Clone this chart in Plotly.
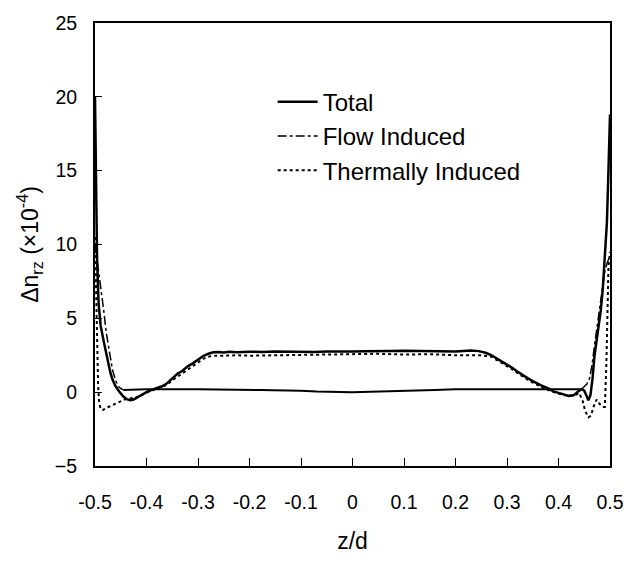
import plotly.graph_objects as go
import numpy as np

# ---- data ----
total_x = [-0.500, -0.498, -0.496, -0.493, -0.489, -0.484, -0.480, -0.475, -0.470, -0.466,
           -0.460, -0.453, -0.445, -0.438, -0.432, -0.425, -0.418, -0.410, -0.400, -0.390,
           -0.380, -0.370, -0.362, -0.350, -0.340, -0.330, -0.320, -0.310, -0.300, -0.290,
           -0.280, -0.270, -0.260, -0.250, -0.240, -0.225, -0.200, -0.175, -0.150, -0.125,
           -0.100, -0.075, -0.050, -0.025, 0.000, 0.025, 0.050, 0.075, 0.100, 0.125,
           0.150, 0.175, 0.200, 0.215, 0.230, 0.245, 0.260, 0.270, 0.280, 0.290,
           0.300, 0.310, 0.320, 0.330, 0.340, 0.350, 0.360, 0.370, 0.380, 0.390,
           0.400, 0.410, 0.420, 0.430, 0.438, 0.445, 0.450, 0.455, 0.458, 0.462,
           0.466, 0.470, 0.474, 0.478, 0.482, 0.486, 0.490, 0.494, 0.497, 0.500]
total_y = [20.0, 14.0, 9.0, 6.0, 4.5, 3.6, 2.9, 2.0, 1.3, 0.85,
           0.4, 0.05, -0.3, -0.48, -0.55, -0.5, -0.35, -0.18, 0.0, 0.15,
           0.25, 0.4, 0.55, 0.95, 1.25, 1.45, 1.75, 1.95, 2.2, 2.45,
           2.6, 2.7, 2.72, 2.68, 2.73, 2.7, 2.74, 2.72, 2.76, 2.74,
           2.75, 2.72, 2.76, 2.74, 2.75, 2.77, 2.75, 2.78, 2.8, 2.78,
           2.8, 2.78, 2.76, 2.79, 2.82, 2.78, 2.65, 2.5, 2.3, 2.1,
           1.9, 1.65, 1.4, 1.15, 0.95, 0.75, 0.55, 0.4, 0.25, 0.05,
           -0.05, -0.15, -0.25, -0.2, 0.05, 0.2, 0.1, -0.3, -0.55, -0.2,
           0.9, 2.5, 3.6, 4.3, 5.5, 7.0, 9.0, 11.5, 15.0, 18.8]

flow_x = [-0.500, -0.496, -0.492, -0.488, -0.484, -0.478, -0.472, -0.466, -0.460, -0.455,
          -0.450, -0.445, -0.400, -0.300, -0.200, -0.180, -0.100, -0.070, 0.000, 0.070,
          0.100, 0.160, 0.200, 0.300, 0.400, 0.445, 0.450, 0.455, 0.460, 0.465,
          0.470, 0.475, 0.480, 0.485, 0.490, 0.495, 0.500]
flow_y = [10.0, 9.0, 7.8, 7.0, 5.8, 4.0, 2.6, 1.5, 0.8, 0.4,
          0.25, 0.15, 0.2, 0.2, 0.2, 0.15, 0.1, 0.05, 0.0, 0.05,
          0.1, 0.15, 0.2, 0.2, 0.2, 0.2, 0.35, 0.55, 0.9, 1.8,
          3.2, 4.5, 5.8, 7.0, 8.2, 8.8, 9.2]

thermal_x = [-0.500, -0.498, -0.496, -0.494, -0.492, -0.489, -0.484, -0.478, -0.470, -0.460,
             -0.450, -0.443, -0.435, -0.427, -0.420, -0.410, -0.400, -0.390, -0.380, -0.370,
             -0.360, -0.350, -0.340, -0.330, -0.320, -0.310, -0.300, -0.290, -0.280, -0.270,
             -0.250, -0.225, -0.200, -0.150, -0.100, -0.050, 0.000, 0.050, 0.100, 0.150,
             0.200, 0.250, 0.270, 0.280, 0.290, 0.300, 0.310, 0.320, 0.330, 0.340,
             0.350, 0.360, 0.370, 0.380, 0.390, 0.400, 0.410, 0.420, 0.430, 0.440,
             0.447, 0.452, 0.458, 0.463, 0.468, 0.474, 0.480, 0.486, 0.490, 0.493,
             0.495, 0.497, 0.500]
thermal_y = [10.5, 7.0, 3.0, 0.5, -0.7, -1.15, -1.2, -1.05, -0.95, -0.8,
             -0.6, -0.5, -0.45, -0.4, -0.35, -0.2, -0.02, 0.12, 0.2, 0.33,
             0.5, 0.8, 1.05, 1.3, 1.55, 1.8, 2.0, 2.25, 2.4, 2.47,
             2.47, 2.5, 2.47, 2.5, 2.55, 2.55, 2.6, 2.6, 2.55, 2.57,
             2.5, 2.5, 2.4, 2.2, 2.0, 1.75, 1.55, 1.3, 1.05, 0.85,
             0.65, 0.45, 0.3, 0.15, 0.0, -0.1, -0.2, -0.25, -0.25, -0.05,
             -0.6, -1.3, -1.7, -1.6, -1.0, -0.5, -0.8, -1.0, -1.0, 2.0,
             6.0, 8.5, 9.5]

x_ticks = [-0.5, -0.4, -0.3, -0.2, -0.1, 0, 0.1, 0.2, 0.3, 0.4, 0.5]
x_ticklabels = ["-0.5", "-0.4", "-0.3", "-0.2", "-0.1", "0", "0.1", "0.2", "0.3", "0.4", "0.5"]
y_ticks = [-5, 0, 5, 10, 15, 20, 25]

# ---- figure ----
fx = np.array(flow_x)
fy = np.array(flow_y)
mid = np.abs(fx) <= 0.445
left = fx <= -0.445
right = fx >= 0.445

fig = go.Figure()
fig.add_trace(go.Scatter(x=total_x, y=total_y, mode="lines", name="Total",
                         line=dict(color="black", width=2.5), legendgroup="t"))
fig.add_trace(go.Scatter(x=fx[left], y=fy[left], mode="lines", name="Flow Induced",
                         line=dict(color="black", width=1.5, dash="dashdot"), legendgroup="f"))
fig.add_trace(go.Scatter(x=fx[mid], y=fy[mid], mode="lines", showlegend=False,
                         line=dict(color="black", width=2), legendgroup="f"))
fig.add_trace(go.Scatter(x=fx[right], y=fy[right], mode="lines", showlegend=False,
                         line=dict(color="black", width=1.5, dash="dashdot"), legendgroup="f"))
fig.add_trace(go.Scatter(x=thermal_x, y=thermal_y, mode="lines", name="Thermally Induced",
                         line=dict(color="black", width=2, dash="dot"), legendgroup="th"))

fam = "Liberation Sans, Arial, sans-serif"
tick_font = dict(family=fam, size=19.5, color="black")
title_font = dict(family=fam, size=23, color="black")
legend_font = dict(family=fam, size=24, color="black")

fig.update_layout(
    width=636, height=562,
    margin=dict(l=95, r=23, t=18, b=94),
    paper_bgcolor="white", plot_bgcolor="white",
    font=tick_font,
    showlegend=True,
    legend=dict(x=0.345, y=0.872, xanchor="left", yanchor="top",
                bgcolor="rgba(0,0,0,0)", font=legend_font,
                traceorder="grouped", tracegroupgap=0, itemwidth=40),
    xaxis=dict(range=[-0.5, 0.5], tickvals=x_ticks, ticktext=x_ticklabels,
               ticks="inside", ticklen=8, tickwidth=1, tickcolor="black",
               showline=True, linecolor="black", linewidth=2, mirror=True,
               showgrid=False, zeroline=False, ticklabelstandoff=18,
               tickfont=tick_font,
               title=dict(text="z/d", font=title_font, standoff=20)),
    yaxis=dict(range=[-5, 25], tickvals=y_ticks,
               ticks="inside", ticklen=7, tickwidth=1, tickcolor="black",
               showline=True, linecolor="black", linewidth=2, mirror=True,
               showgrid=False, zeroline=False, ticklabelstandoff=12,
               tickfont=tick_font,
               title=dict(text="Δn<sub>rz</sub> (×10<sup>-4</sup>)", font=title_font, standoff=10)),
)

fig.write_html("out.html")
